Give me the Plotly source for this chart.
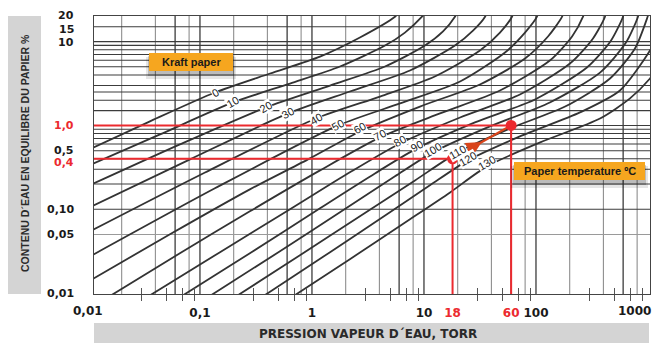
import math
import plotly.graph_objects as go

# ---------------- data ----------------
TEMPS = [0, 10, 20, 30, 40, 50, 60, 70, 80, 90, 100, 110, 120, 130]

# isotherms: water-vapour pressure (torr) and equilibrium moisture (%)
T0_P = [0.01, 0.0358, 0.136, 0.422, 1.18, 2.68, 5.51, 6.1]
T0_M = [0.51, 1.12, 2.47, 4.16, 6.63, 11.2, 19.8, 23.0]
T10_P = [0.01, 0.044, 0.197, 0.637, 1.78, 4.49, 6.76, 9.60, 10.9]
T10_M = [0.329, 0.781, 1.88, 3.16, 5.04, 8.96, 12.8, 19.8, 24.7]
T20_P = [0.01, 0.0662, 0.388, 1.45, 4.49, 10.2, 14.8, 18.9, 20.5]
T20_M = [0.189, 0.594, 1.64, 2.99, 5.04, 8.96, 13.2, 19.8, 24.7]
T30_P = [0.01, 0.0815, 0.611, 2.18, 7.50, 18.9, 27.4, 35.1, 37.3]
T30_M = [0.103, 0.394, 1.39, 2.54, 4.52, 8.96, 13.5, 19.8, 24.7]
T40_P = [0.01, 0.111, 1.086, 4.05, 12.5, 31.6, 47.7, 61.1, 64.9]
T40_M = [0.0531, 0.275, 1.21, 2.21, 3.83, 7.81, 12.8, 19.8, 24.7]
T50_P = [0.01, 0.136, 1.71, 6.11, 21.0, 52.9, 79.8, 102, 106]
T50_M = [0.0266, 0.178, 1.0, 1.83, 3.34, 7.40, 12.8, 19.8, 24.7]
T60_P = [0.01, 0.054, 0.279, 0.96, 2.68, 9.21, 31.6, 79.8, 128, 171, 182]
T60_M = [0.0137, 0.0504, 0.173, 0.405, 0.848, 1.68, 3.08, 6.28, 11.5, 19.8, 26.1]
T70_P = [0.0142, 0.0662, 0.279, 1.18, 4.05, 13.9, 47.7, 133, 210, 263, 279]
T70_M = [0.0085, 0.0299, 0.0946, 0.291, 0.72, 1.39, 2.61, 5.94, 11.5, 19.8, 26.1]
T80_P = [0.0316, 0.151, 0.637, 2.18, 6.11, 21.0, 71.9, 201, 323, 413, 430]
T80_M = [0.0085, 0.0308, 0.1, 0.276, 0.61, 1.245, 2.34, 5.47, 10.9, 19.8, 26.1]
T90_P = [0.0624, 0.279, 1.18, 3.65, 8.66, 28.5, 98, 285, 468, 598, 623]
T90_M = [0.0085, 0.0299, 0.103, 0.268, 0.532, 1.086, 2.04, 4.90, 10.3, 19.8, 26.1]
T100_P = [0.111, 0.518, 1.778, 5.51, 12.0, 38.8, 133, 373, 636, 814, 849]
T100_M = [0.0085, 0.0316, 0.092, 0.247, 0.477, 0.973, 1.88, 4.27, 9.73, 19.8, 26.1]
T110_P = [0.193, 0.781, 2.68, 8.31, 20.1, 58.6, 182, 458, 765, 980, 1042]
T110_M = [0.0085, 0.0283, 0.0825, 0.221, 0.477, 0.921, 1.68, 3.63, 8.26, 18.8, 24.7]
T120_P = [0.336, 1.45, 4.97, 11.3, 24.7, 71.9, 247, 562, 1042, 1280]
T120_M = [0.0085, 0.0308, 0.092, 0.193, 0.383, 0.74, 1.43, 2.61, 7.81, 13.5]
T130_P = [0.623, 2.18, 7.50, 17.1, 36.5, 109, 373, 691, 1042, 1280]
T130_M = [0.0085, 0.0254, 0.076, 0.159, 0.325, 0.628, 1.21, 2.10, 3.63, 5.32]

# curve label anchor points (pressure, moisture)
LABEL_P = [0.136, 0.197, 0.388, 0.611, 1.086, 1.71, 2.68, 4.05, 6.11, 8.66, 12.0, 20.1, 24.7, 36.5]
LABEL_M = [2.47, 1.88, 1.64, 1.39, 1.21, 1.0, 0.921, 0.760, 0.645, 0.562, 0.504, 0.477, 0.394, 0.353]

# worked example (red)
EX_P = [18, 60]
EX_M = [0.4, 1.0]

# axis ticks / grid
X_TICKS = [0.1, 1, 10, 18, 60, 100]
X_TICK_TEXT = ["0,1", "1", "10", "18", "60", "100"]
X_EDGE_TICKS = [0.01, 1000]
X_EDGE_TEXT = ["0,01", "1000"]
X_MINOR = [0.03, 0.05, 0.07, 0.09, 0.3, 0.5, 0.7, 0.9, 3, 5, 7, 9,
           30, 50, 70, 90, 300, 500, 700, 900]
Y_TICKS = [0.01, 0.05, 0.1, 0.4, 0.5, 1, 10, 15, 20]
Y_TICK_TEXT = ["0,01", "0,05", "0,10", "0,4", "0,5", "1,0", "10", "15", "20"]
RED_X_TICKS = [18, 60]
RED_Y_TICKS = [0.4, 1]
X_GRID_DARK = [0.06, 0.1, 0.6, 1, 6, 10, 60, 100, 600]
X_GRID_LIGHT = [0.02, 0.04, 0.08, 0.2, 0.4, 0.8, 2, 4, 8, 20, 40, 80, 200, 400, 800]
Y_GRID_DARK = [0.1, 0.2, 0.3, 0.4, 0.5, 0.6, 0.7, 0.8, 0.9, 1, 1.5, 2, 2.5, 3,
               4, 5, 6, 7, 8, 9, 10, 15]
Y_GRID_LIGHT = [0.05]

CURVES = [
    (T0_P, T0_M), (T10_P, T10_M), (T20_P, T20_M), (T30_P, T30_M),
    (T40_P, T40_M), (T50_P, T50_M), (T60_P, T60_M), (T70_P, T70_M),
    (T80_P, T80_M), (T90_P, T90_M), (T100_P, T100_M), (T110_P, T110_M),
    (T120_P, T120_M), (T130_P, T130_M),
]

# ---------------- layout constants ----------------
W, H = 654, 343
ML, MR, MT, MB = 94, 4, 16, 49
PW, PH = W - ML - MR, H - MT - MB
X_RANGE = [-1.946, 3.018]
Y_RANGE = [-2.01, 1.305]
XLO, XHI = 10 ** (X_RANGE[0] - 0.1), 10 ** (X_RANGE[1] + 0.1)
YLO, YHI = 10 ** (Y_RANGE[0] - 0.1), 10 ** (Y_RANGE[1] + 0.1)

RED = "#ec2a2f"
ORANGE = "#f6a61f"
CURVE_COL = "#333333"
AXFONT = dict(family="DejaVu Sans", size=12, color="#1a1a1a", weight="bold")
YFONT = dict(family="DejaVu Sans", size=11, color="#1a1a1a", weight="bold")
# small vertical nudges (px) so that stacked y labels do not collide
Y_LABEL_NUDGE = {20: 1, 15: -3, 10: -1, 0.5: 0, 0.4: -4}


def px_x(px):
    return (px - ML) / PW


def px_y(py):
    return (H - MB - py) / PH


def red_span(t):
    return "<span style='color:%s'>%s</span>" % (RED, t)


fig = go.Figure()


def add_vgrid(vals, color, width):
    xs, ys = [], []
    for v in vals:
        xs += [v, v, None]
        ys += [YLO, YHI, None]
    fig.add_trace(go.Scatter(x=xs, y=ys, mode="lines", hoverinfo="skip",
                             line=dict(color=color, width=width)))


def add_hgrid(vals, color, width):
    xs, ys = [], []
    for v in vals:
        xs += [XLO, XHI, None]
        ys += [v, v, None]
    fig.add_trace(go.Scatter(x=xs, y=ys, mode="lines", hoverinfo="skip",
                             line=dict(color=color, width=width)))


add_vgrid(X_GRID_LIGHT, "#8e8e8e", 1.1)
add_hgrid(Y_GRID_LIGHT, "#9a9a9a", 1.1)
add_vgrid(X_GRID_DARK, "#3c3c3c", 1.3)
add_hgrid(Y_GRID_DARK, "#3c3c3c", 1.1)

# isotherms
for (ps, ms) in CURVES:
    fig.add_trace(go.Scatter(x=ps, y=ms, mode="lines", hoverinfo="skip",
                             line=dict(color=CURVE_COL, width=1.8,
                                       shape="spline", smoothing=0.7)))

# red guide lines of the worked example
for p, m in zip(EX_P, EX_M):
    fig.add_trace(go.Scatter(x=[XLO, p, p], y=[m, m, YLO], mode="lines",
                             hoverinfo="skip", line=dict(color=RED, width=2)))

# arrow line between the two points
fig.add_trace(go.Scatter(x=EX_P, y=EX_M, mode="lines", hoverinfo="skip",
                         line=dict(color="#d9441a", width=2.2)))
fig.add_trace(go.Scatter(x=EX_P, y=EX_M, mode="markers", hoverinfo="skip",
                         marker=dict(color=RED, size=11)))
# invisible trace that carries the overlay axis used for the upper half of the minor ticks
fig.add_trace(go.Scatter(x=[1], y=[1], xaxis="x2", mode="markers", hoverinfo="skip",
                         marker=dict(opacity=0)))

annotations = []
# arrow head in the middle of the segment
mid_p = math.sqrt(EX_P[0] * EX_P[1])
mid_m = math.sqrt(EX_M[0] * EX_M[1])
annotations.append(dict(x=math.log10(mid_p), y=math.log10(mid_m), xref="x", yref="y",
                        ax=math.log10(EX_P[0]), ay=math.log10(EX_M[0]),
                        axref="x", ayref="y", text="", showarrow=True,
                        arrowhead=2, arrowsize=1.4, arrowwidth=2.2,
                        arrowcolor="#d9441a"))

# curve labels
for t, p, m in zip(TEMPS, LABEL_P, LABEL_M):
    annotations.append(dict(x=math.log10(p), y=math.log10(m), xref="x", yref="y",
                            text=str(t), showarrow=False, textangle=-30,
                            xanchor="center", yanchor="middle",
                            font=dict(family="Liberation Sans", size=11, color="#222"),
                            bgcolor="white", borderpad=0))

# edge x tick labels
x_span = X_RANGE[1] - X_RANGE[0]
for v, t in zip(X_EDGE_TICKS, X_EDGE_TEXT):
    fx = (math.log10(v) - X_RANGE[0]) / x_span
    anchor = "center"
    if fx > 0.99:
        fx = px_x(653)
        anchor = "right"
    annotations.append(dict(x=fx, y=px_y(311), xref="paper", yref="paper",
                            text=t, showarrow=False, xanchor=anchor, yanchor="middle",
                            font=AXFONT))

# y tick labels
for v, t in zip(Y_TICKS, Y_TICK_TEXT):
    annotations.append(dict(x=px_x(76), y=math.log10(v), xref="paper", yref="y",
                            text=red_span(t) if v in RED_Y_TICKS else t,
                            showarrow=False, xanchor="right", yanchor="middle",
                            yshift=Y_LABEL_NUDGE.get(v, 0), font=YFONT))

# axis titles
annotations.append(dict(x=px_x(25), y=px_y(153), xref="paper", yref="paper",
                        xanchor="center", yanchor="middle",
                        text="CONTENU D´EAU EN EQUILIBRE DU PAPIER %", textangle=-90,
                        showarrow=False,
                        font=dict(family="Liberation Sans", size=10.5, color="#2a2a2a",
                                  weight="bold")))
annotations.append(dict(x=px_x(368), y=px_y(334), xref="paper", yref="paper",
                        xanchor="center", yanchor="middle",
                        text="PRESSION VAPEUR D´EAU, TORR", showarrow=False,
                        font=dict(family="DejaVu Sans", size=12, color="#2a2a2a",
                                  weight="bold")))

# boxes
annotations.append(dict(x=px_x(191), y=px_y(62), xref="paper", yref="paper",
                        xanchor="center", yanchor="middle",
                        text="Kraft paper", showarrow=False,
                        font=dict(family="Liberation Sans", size=11, color="#1a1a1a",
                                  weight="bold")))
annotations.append(dict(x=px_x(580), y=px_y(171), xref="paper", yref="paper",
                        xanchor="center", yanchor="middle",
                        text="Paper temperature ºC", showarrow=False,
                        font=dict(family="Liberation Sans", size=11, color="#1a1a1a",
                                  weight="bold")))

shapes = []
# grey title bands
shapes.append(dict(type="rect", xref="paper", yref="paper", layer="below",
                   x0=px_x(8), x1=px_x(41), y0=px_y(294), y1=px_y(16),
                   fillcolor="#d4d4d4", line=dict(width=0)))
shapes.append(dict(type="rect", xref="paper", yref="paper", layer="below",
                   x0=px_x(94), x1=px_x(649), y0=px_y(343), y1=px_y(323),
                   fillcolor="#d4d4d4", line=dict(width=0)))
# orange boxes with soft shadows
for (x0, y0, x1, y1) in [(149, 53, 233, 71), (514, 162, 645, 180)]:
    shapes.append(dict(type="rect", xref="paper", yref="paper", layer="above",
                       x0=px_x(x0 - 3), x1=px_x(x1 + 3), y0=px_y(y1 + 8), y1=px_y(y0 + 4),
                       fillcolor="rgba(0,0,0,0.10)", line=dict(width=0)))
    shapes.append(dict(type="rect", xref="paper", yref="paper", layer="above",
                       x0=px_x(x0 - 1), x1=px_x(x1 + 1), y0=px_y(y1 + 5), y1=px_y(y0 + 3),
                       fillcolor="rgba(0,0,0,0.18)", line=dict(width=0)))
    shapes.append(dict(type="rect", xref="paper", yref="paper", layer="above",
                       x0=px_x(x0), x1=px_x(x1), y0=px_y(y1), y1=px_y(y0),
                       fillcolor=ORANGE, line=dict(width=0)))

fig.update_layout(
    width=W, height=H,
    margin=dict(l=ML, r=MR, t=MT, b=MB, pad=0),
    paper_bgcolor="white", plot_bgcolor="white",
    showlegend=False,
    annotations=annotations,
    shapes=shapes,
    xaxis=dict(type="log", range=X_RANGE, showgrid=False, zeroline=False,
               showline=True, linecolor="#444", linewidth=1.2, mirror=True,
               tickmode="array", tickvals=X_TICKS,
               ticktext=[red_span(t) if v in RED_X_TICKS else t
                         for v, t in zip(X_TICKS, X_TICK_TEXT)],
               ticks="outside", ticklen=7, tickcolor="rgba(0,0,0,0)",
               tickfont=AXFONT,
               minor=dict(tickmode="array", tickvals=X_MINOR, ticks="outside",
                          ticklen=6, tickcolor="#555", tickwidth=1.2, showgrid=False)),
    xaxis2=dict(type="log", range=X_RANGE, overlaying="x", anchor="y", side="bottom",
                showgrid=False, zeroline=False, showline=False, showticklabels=False,
                tickmode="array", tickvals=X_MINOR, ticks="inside", ticklen=6,
                tickcolor="#555", tickwidth=1.2),
    yaxis=dict(type="log", range=Y_RANGE, showgrid=False, zeroline=False,
               showline=True, linecolor="#444", linewidth=1.2, mirror=True,
               showticklabels=False, ticks=""),
)

fig.write_html("out.html")
